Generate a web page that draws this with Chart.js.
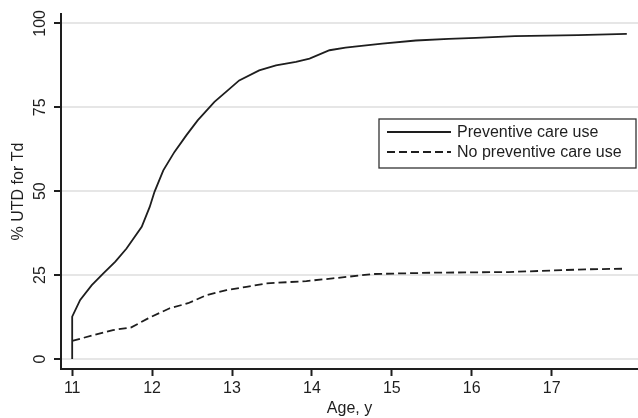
<!DOCTYPE html>
<html lang="en">
<head>
    <meta charset="UTF-8">
    <title>% UTD for Td by age</title>
    <script src="https://cdn.jsdelivr.net/npm/chart.js"></script>
    <style>
        body {
            margin: 0;
            padding: 0;
            background: #fff;
        }
        canvas {
            display: block;
        }
    </style>
</head>
<body>
    <canvas id="myChart" width="638" height="418"></canvas>
    <script>
        // Preventive care use
        const careAges = [11, 11, 11.10, 11.245, 11.39, 11.54, 11.68, 11.87, 11.97, 12.03, 12.14, 12.28, 12.43, 12.57, 12.78, 12.95, 13.09, 13.34, 13.55, 13.80, 13.97, 14.22, 14.42, 14.59, 14.88, 15.30, 15.71, 16.05, 16.54, 17.33, 17.94];
        const careValues = [0, 12.6, 17.6, 22.0, 25.5, 29.0, 32.9, 39.4, 45.3, 49.8, 56.2, 61.7, 66.7, 71.1, 76.6, 80.1, 83.0, 86.0, 87.5, 88.5, 89.5, 92.0, 92.8, 93.2, 94.0, 94.9, 95.4, 95.7, 96.2, 96.5, 96.9];

        // No preventive care use
        const noCareAges = [11, 11.27, 11.51, 11.74, 11.95, 12.22, 12.45, 12.68, 12.93, 13.18, 13.43, 13.93, 14.26, 14.76, 15.51, 16.46, 17.42, 17.92];
        const noCareValues = [5.4, 7.1, 8.6, 9.4, 12.1, 15.1, 16.6, 19.0, 20.5, 21.5, 22.5, 23.2, 24.0, 25.3, 25.7, 25.9, 26.7, 26.9];

        const xTicks = [11, 12, 13, 14, 15, 16, 17];
        const yTicks = [0, 25, 50, 75, 100];

        const ink = '#1e1e1e';
        const fontFamily = '"Liberation Sans", Arial, sans-serif';

        function toPoints(xs, ys) {
            return xs.map((x, i) => ({ x: x, y: ys[i] }));
        }

        // legend box drawn inside the plot, like the original
        const insideLegend = {
            id: 'insideLegend',
            afterDraw(chart) {
                const c = chart.ctx;
                const left = 379, top = 119, right = 636, bottom = 168;
                c.save();
                c.fillStyle = '#fff';
                c.fillRect(left, top, right - left, bottom - top);
                c.strokeStyle = '#333';
                c.lineWidth = 1.3;
                c.strokeRect(left, top, right - left, bottom - top);
                c.font = '16px ' + fontFamily;
                c.textBaseline = 'middle';
                chart.data.datasets.forEach((ds, i) => {
                    const y = 132 + i * 20;
                    c.beginPath();
                    c.setLineDash(ds.borderDash || []);
                    c.strokeStyle = ds.borderColor;
                    c.lineWidth = ds.borderWidth;
                    c.moveTo(387, y);
                    c.lineTo(451, y);
                    c.stroke();
                    c.setLineDash([]);
                    c.fillStyle = ink;
                    c.fillText(ds.label, 457, y + 1);
                });
                c.restore();
            }
        };

        const ctx = document.getElementById('myChart').getContext('2d');
        const myChart = new Chart(ctx, {
            type: 'line',
            data: {
                datasets: [
                    {
                        label: 'Preventive care use',
                        data: toPoints(careAges, careValues),
                        borderColor: ink,
                        borderWidth: 1.8,
                        pointRadius: 0,
                        fill: false,
                        tension: 0
                    },
                    {
                        label: 'No preventive care use',
                        data: toPoints(noCareAges, noCareValues),
                        borderColor: ink,
                        borderWidth: 1.8,
                        borderDash: [8, 4],
                        pointRadius: 0,
                        fill: false,
                        tension: 0
                    }
                ]
            },
            options: {
                responsive: false,
                animation: false,
                devicePixelRatio: 1,
                layout: {
                    padding: { top: 14, right: 0, left: 0, bottom: 0 }
                },
                scales: {
                    x: {
                        type: 'linear',
                        min: 10.86,
                        max: 18.08,
                        afterBuildTicks: (scale) => {
                            scale.ticks = xTicks.map(v => ({ value: v }));
                        },
                        afterFit: (scale) => { scale.height = 49; },
                        border: { display: true, color: ink, width: 2 },
                        grid: {
                            display: true,
                            color: 'rgba(0,0,0,0)',
                            drawTicks: true,
                            tickLength: 7,
                            tickColor: ink,
                            tickWidth: 2
                        },
                        ticks: {
                            color: ink,
                            font: { family: fontFamily, size: 16 },
                            padding: 3,
                            maxRotation: 0,
                            autoSkip: false
                        },
                        title: {
                            display: true,
                            text: 'Age, y',
                            color: ink,
                            font: { family: fontFamily, size: 16 },
                            padding: { top: 0, bottom: 0 }
                        }
                    },
                    y: {
                        min: -3,
                        max: 102.8,
                        afterBuildTicks: (scale) => {
                            scale.ticks = yTicks.map(v => ({ value: v }));
                        },
                        afterFit: (scale) => { scale.width = 61; },
                        border: { display: true, color: ink, width: 2 },
                        grid: {
                            display: true,
                            color: '#e6e6e6',
                            lineWidth: 2,
                            drawTicks: true,
                            tickLength: 7,
                            tickColor: ink,
                            tickWidth: 2
                        },
                        ticks: {
                            color: ink,
                            font: { family: fontFamily, size: 16 },
                            padding: 0,
                            crossAlign: 'center',
                            minRotation: 90,
                            maxRotation: 90,
                            autoSkip: false
                        },
                        title: {
                            display: true,
                            text: '% UTD for Td',
                            color: ink,
                            font: { family: fontFamily, size: 16 },
                            padding: { top: 9, bottom: 0 }
                        }
                    }
                },
                plugins: {
                    legend: { display: false },
                    tooltip: { enabled: false }
                }
            },
            plugins: [insideLegend]
        });
    </script>
</body>
</html>
